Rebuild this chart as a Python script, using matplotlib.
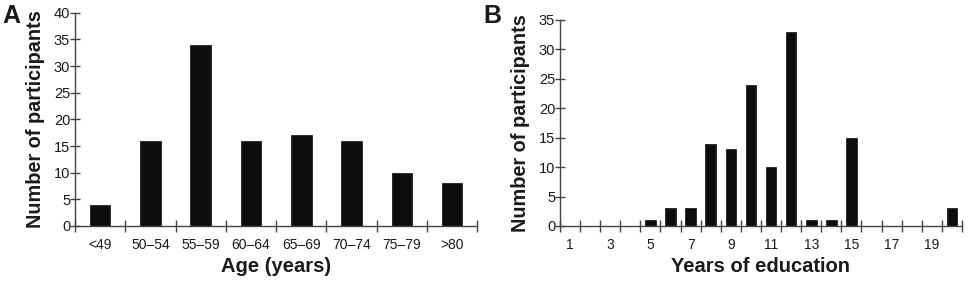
import matplotlib
matplotlib.use("Agg")
import matplotlib.pyplot as plt
import numpy as np

plt.rcParams['font.family'] = ['Liberation Sans', 'DejaVu Sans']

age_groups = ["<49", "50–54", "55–59", "60–64", "65–69", "70–74", "75–79", ">80"]
age_counts = [4, 16, 34, 16, 17, 16, 10, 8]

edu_years = list(range(1, 21))
edu_counts = [0, 0, 0, 0, 1, 3, 3, 14, 13, 24, 10, 33, 1, 1, 15, 0, 0, 0, 0, 3]
edu_tick_labels = ["1", "3", "5", "7", "9", "11", "13", "15", "17", "19"]

axis_col = "#444444"
txt_col = "#1a1a1a"

fig = plt.figure(figsize=(9.68, 2.82), dpi=100)
axA = fig.add_axes([0.0775, 0.1986, 0.4155, 0.7564])
axB = fig.add_axes([0.5785, 0.1986, 0.4153, 0.7305])

def style(ax):
    for s in ["top", "right"]:
        ax.spines[s].set_visible(False)
    for s in ["left", "bottom"]:
        ax.spines[s].set_color(axis_col)
        ax.spines[s].set_linewidth(1.0)
    ax.tick_params(axis="y", direction="inout", length=7, width=1.0, color=axis_col,
                   labelsize=10.5, labelcolor=txt_col, pad=0)
    ax.tick_params(axis="x", which="major", length=0, labelsize=10, labelcolor=txt_col, pad=9)
    ax.tick_params(axis="x", which="minor", direction="inout", length=8, width=1.0, color=axis_col)

# Panel A
xa = np.arange(len(age_groups))
axA.bar(xa, age_counts, width=0.41, color="#0d0d0d", edgecolor="#0d0d0d", linewidth=0.5)
axA.set_xlim(-0.5, len(age_groups) - 0.5)
axA.set_ylim(0, 40)
axA.set_yticks(range(0, 41, 5))
axA.set_xticks(xa)
axA.set_xticklabels(age_groups)
axA.set_xticks(np.arange(-0.5, len(age_groups) + 0.5, 1), minor=True)
style(axA)
axA.set_xlabel("Age (years)", fontsize=14.5, fontweight="bold", color=txt_col, labelpad=3)
axA.set_ylabel("Number of participants", fontsize=14.3, fontweight="bold", color=txt_col, labelpad=6)
fig.text(0.002, 0.985, "A", fontsize=18, fontweight="bold", color=txt_col, va="top", ha="left")

# Panel B
axB.bar(edu_years, edu_counts, width=0.53, color="#0d0d0d", edgecolor="#0d0d0d", linewidth=0.5)
axB.set_xlim(0.5, 20.5)
axB.set_ylim(0, 35)
axB.set_yticks(range(0, 36, 5))
axB.set_xticks([int(t) for t in edu_tick_labels])
axB.set_xticklabels(edu_tick_labels)
axB.set_xticks(np.arange(0.5, 21, 1), minor=True)
style(axB)
axB.set_xlabel("Years of education", fontsize=14.5, fontweight="bold", color=txt_col, labelpad=3)
axB.set_ylabel("Number of participants", fontsize=14.3, fontweight="bold", color=txt_col, labelpad=6)
fig.text(0.499, 0.985, "B", fontsize=18, fontweight="bold", color=txt_col, va="top", ha="left")

fig.savefig("out.png", dpi=100)
